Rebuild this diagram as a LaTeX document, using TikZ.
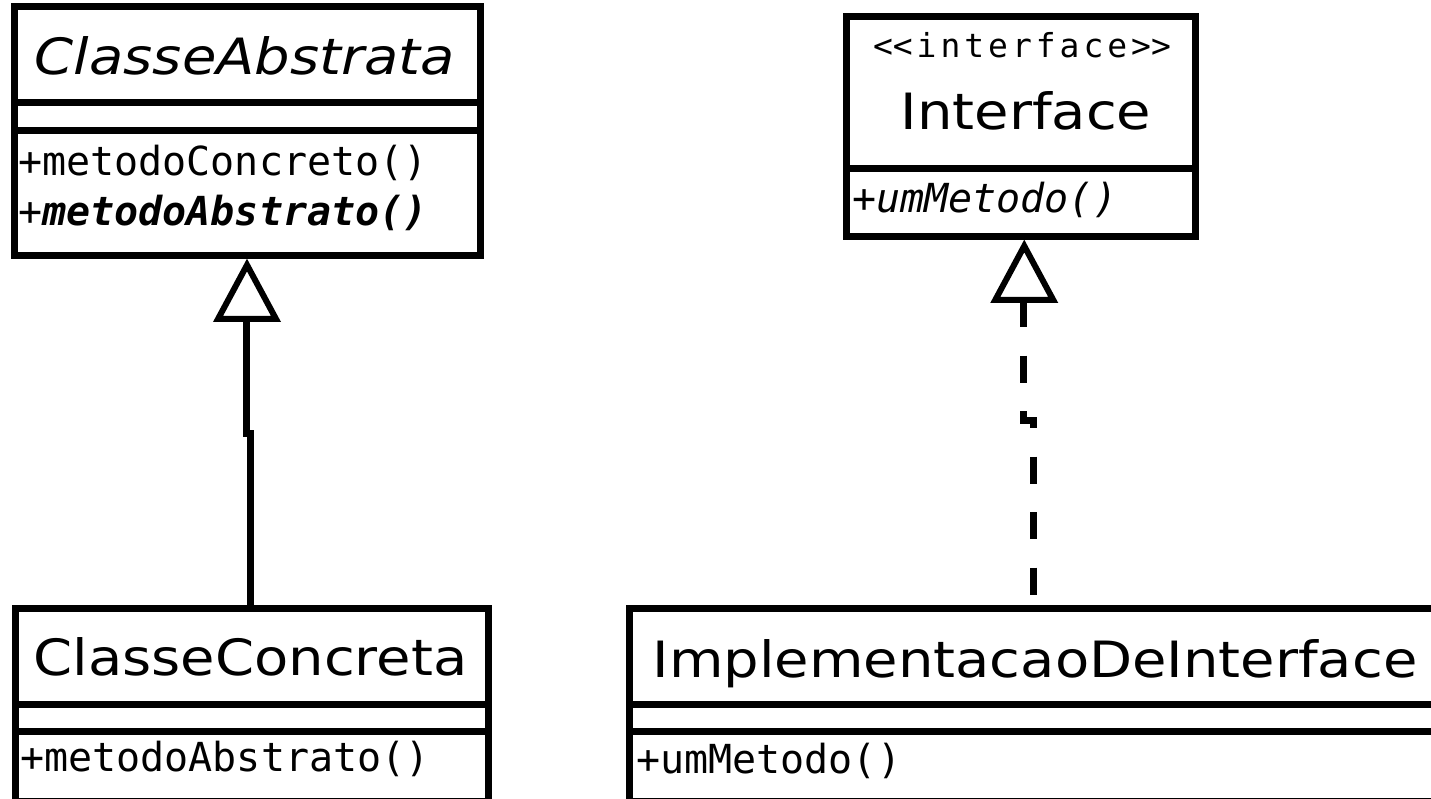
\documentclass[tikz,border=0pt]{standalone}
\usepackage{fontspec}
\usepackage{graphicx}
\usetikzlibrary{calc}
\newfontfamily\titlefont{DejaVu Sans}
\newfontfamily\codefont{DejaVu Sans Mono}
\newfontfamily\stereofont[LetterSpace=12]{DejaVu Sans Mono}
\newcommand{\wide}[1]{\scalebox{1.12}[1]{#1}}
\tikzset{
  classbox/.style={draw, line width=7pt, rectangle, inner sep=0pt, outer sep=0pt, anchor=north west},
  rule/.style={line width=7pt},
  conn/.style={line width=7pt},
  realize/.style={line width=7pt, dash pattern=on 27pt off 28.5pt},
  head/.style={draw, line width=6pt, fill=white},
  title/.style={inner sep=0pt, anchor=base, font=\titlefont\fontsize{50}{60}\selectfont},
  member/.style={inner sep=0pt, anchor=base west, font=\codefont\fontsize{40}{48}\selectfont},
  stereo/.style={inner sep=0pt, anchor=base, font=\stereofont\fontsize{33}{38}\selectfont},
}
\begin{document}
\begin{tikzpicture}[x=1pt, y=-1pt]
  \useasboundingbox (0,0) rectangle (1431,799);
  \fill[white] (0,0) rectangle (1431,799);
  \clip (0,0) rectangle (1431,799);

  % abstract class
  \node[classbox, minimum width=466pt, minimum height=249pt] (ca) at (14,6.5) {};
  \draw[rule] ($(ca.north west)+(0,96)$) -- ($(ca.north east)+(0,96)$);
  \draw[rule] ($(ca.north west)+(0,124)$) -- ($(ca.north east)+(0,124)$);
  \node[title] (ca-name) at (245,75) {\wide{\itshape ClasseAbstrata}};
  \node[member] (ca-m1) at (18,176) {+metodoConcreto()};
  \node[member] (ca-m2) at (18,226) {+{\bfseries\itshape metodoAbstrato()}};

  % interface
  \node[classbox, minimum width=348.5pt, minimum height=220pt] (if) at (846.5,16.5) {};
  \draw[rule] ($(if.north west)+(0,152)$) -- ($(if.north east)+(0,152)$);
  \node[stereo] (if-st) at (1022,58) {<\kern0pt<interface>\kern0pt>};
  \node[title] (if-name) at (1026,130) {\wide{Interface}};
  \node[member] (if-m1) at (852,213) {+{\itshape umMetodo()}};

  % concrete class
  \node[classbox, minimum width=473.5pt, minimum height=193pt] (cc) at (15,608.5) {};
  \draw[rule] ($(cc.north west)+(0,95.5)$) -- ($(cc.north east)+(0,95.5)$);
  \draw[rule] ($(cc.north west)+(0,123)$) -- ($(cc.north east)+(0,123)$);
  \node[title] (cc-name) at (250.5,675) {\wide{ClasseConcreta}};
  \node[member] (cc-m1) at (20,771) {+metodoAbstrato()};

  % interface implementation
  \node[classbox, minimum width=840pt, minimum height=193.5pt] (im) at (629.5,608) {};
  \draw[rule] ($(im.north west)+(0,96)$) -- ($(im.north east)+(0,96)$);
  \draw[rule] ($(im.north west)+(0,123.5)$) -- ($(im.north east)+(0,123.5)$);
  \node[title] (im-name) at (1035,677) {\wide{ImplementacaoDeInterface}};
  \node[member] (im-m1) at (636,773) {+umMetodo()};

  % generalization: ClasseConcreta -> ClasseAbstrata
  \coordinate (gtip) at ($(ca.south)+(0,9.5)$);
  \coordinate (gtop) at ($(gtip)+(-1,54)$);
  \coordinate (gjog) at (250,433);
  \draw[conn] (gtop) |- (gjog) -- (gjog |- cc.north);
  \draw[head] (gtip) -- ++(-29,54) -- ++(58,0) -- cycle;

  % realization: ImplementacaoDeInterface -> Interface
  \coordinate (rtip) at ($(if.south)+(3.5,9.5)$);
  \coordinate (rtop) at ($(rtip)+(-0.75,54)$);
  \coordinate (rjog) at (1033.5,420);
  \draw[realize] (rtop) |- (rjog) -- (rjog |- im.north);
  \draw[head] (rtip) -- ++(-29,54) -- ++(58,0) -- cycle;
\end{tikzpicture}
\end{document}
